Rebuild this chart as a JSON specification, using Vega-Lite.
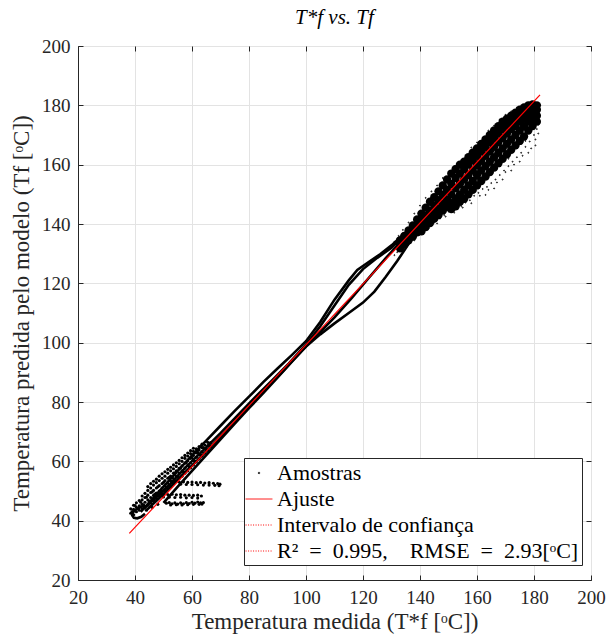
{
  "$schema": "https://vega.github.io/schema/vega-lite/v6.json",
  "width": 513,
  "height": 534,
  "autosize": "none",
  "padding": {"left": 78, "top": 46, "right": 17, "bottom": 57},
  "background": "white",
  "title": {"text": "T*f vs. Tf", "font": "Liberation Serif", "fontSize": 21, "fontStyle": "italic", "fontWeight": "normal", "color": "black", "offset": 9, "frame": "group"},
  "config": {
    "view": {"stroke": "#262626", "strokeWidth": 1},
    "axis": {
      "labelFont": "Liberation Serif", "labelFontSize": 19, "labelColor": "#262626",
      "titleFont": "Liberation Serif", "titleFontSize": 23, "titleFontWeight": "normal", "titleColor": "#262626",
      "gridColor": "#e3e3e3", "gridWidth": 1, "domainColor": "#262626", "tickColor": "#262626",
      "tickSize": -5, "labelPadding": 13, "labelFlush": false, "labelOverlap": false
    },
    "legend": {
      "orient": "none", "legendX": 166, "legendY": 412,
      "labelFont": "Liberation Serif", "labelFontSize": 22, "labelColor": "black", "labelLimit": 500,
      "strokeColor": "#262626", "fillColor": "white", "padding": 3, "rowPadding": 3, "labelOffset": 6, "symbolSize": 500, "symbolStrokeWidth": 1
    }
  },
  "datasets": {
    "low": [
      {"x":38.5,"y":42.5},{"x":38.5,"y":44},
      {"x":39.5,"y":42},{"x":39.5,"y":43.8},{"x":39.5,"y":45.2},
      {"x":40.5,"y":43},{"x":40.5,"y":44.5},{"x":40.5,"y":46},
      {"x":41.5,"y":43.5},{"x":41.5,"y":45},{"x":41.5,"y":46.8},
      {"x":42.5,"y":44},{"x":42.5,"y":45.5},{"x":42.5,"y":47},{"x":42.5,"y":48.3},
      {"x":43.5,"y":44.5},{"x":43.5,"y":46.2},{"x":43.5,"y":47.8},{"x":43.5,"y":49.2},
      {"x":44.5,"y":45.2},{"x":44.5,"y":47},{"x":44.5,"y":48.6},{"x":44.5,"y":50.2},{"x":44.5,"y":51.5},
      {"x":45.5,"y":46},{"x":45.5,"y":47.8},{"x":45.5,"y":49.5},{"x":45.5,"y":51},{"x":45.5,"y":52.5},
      {"x":46.5,"y":46.8},{"x":46.5,"y":48.5},{"x":46.5,"y":50.2},{"x":46.5,"y":52},{"x":46.5,"y":53.3},
      {"x":47.5,"y":47.5},{"x":47.5,"y":49.3},{"x":47.5,"y":51},{"x":47.5,"y":52.8},{"x":47.5,"y":54},
      {"x":48.5,"y":48.3},{"x":48.5,"y":50},{"x":48.5,"y":51.8},{"x":48.5,"y":53.5},{"x":48.5,"y":55},
      {"x":49.5,"y":49},{"x":49.5,"y":51},{"x":49.5,"y":52.5},{"x":49.5,"y":54.3},{"x":49.5,"y":55.8},
      {"x":50.5,"y":50},{"x":50.5,"y":51.8},{"x":50.5,"y":53.5},{"x":50.5,"y":55},{"x":50.5,"y":56.5},
      {"x":51.5,"y":50.8},{"x":51.5,"y":52.6},{"x":51.5,"y":54.3},{"x":51.5,"y":56},{"x":51.5,"y":57.3},
      {"x":52.5,"y":51.5},{"x":52.5,"y":53.4},{"x":52.5,"y":55},{"x":52.5,"y":56.8},{"x":52.5,"y":58},
      {"x":53.5,"y":52.5},{"x":53.5,"y":54.2},{"x":53.5,"y":56},{"x":53.5,"y":57.5},{"x":53.5,"y":58.8},
      {"x":54.5,"y":53.3},{"x":54.5,"y":55},{"x":54.5,"y":56.8},{"x":54.5,"y":58.3},{"x":54.5,"y":59.5},
      {"x":55.5,"y":54.2},{"x":55.5,"y":56},{"x":55.5,"y":57.6},{"x":55.5,"y":59.2},{"x":55.5,"y":60.3},
      {"x":56.5,"y":55},{"x":56.5,"y":56.8},{"x":56.5,"y":58.5},{"x":56.5,"y":60},{"x":56.5,"y":61.2},
      {"x":57.5,"y":56},{"x":57.5,"y":57.7},{"x":57.5,"y":59.4},{"x":57.5,"y":61},{"x":57.5,"y":62},
      {"x":58.5,"y":56.8},{"x":58.5,"y":58.6},{"x":58.5,"y":60.2},{"x":58.5,"y":61.8},{"x":58.5,"y":62.8},
      {"x":59.5,"y":57.8},{"x":59.5,"y":59.5},{"x":59.5,"y":61},{"x":59.5,"y":62.6},{"x":59.5,"y":63.6},
      {"x":60.5,"y":58.8},{"x":60.5,"y":60.4},{"x":60.5,"y":62},{"x":60.5,"y":63.4},{"x":60.5,"y":64.4},
      {"x":61.5,"y":59.8},{"x":61.5,"y":61.4},{"x":61.5,"y":62.8},{"x":61.5,"y":64.2},
      {"x":62.5,"y":60.8},{"x":62.5,"y":62.3},{"x":62.5,"y":63.8},{"x":62.5,"y":65},
      {"x":63.5,"y":61.8},{"x":63.5,"y":63.2},{"x":63.5,"y":64.6},{"x":63.5,"y":65.8},
      {"x":64.5,"y":62.8},{"x":64.5,"y":64.2},{"x":64.5,"y":65.5},
      {"x":65.5,"y":63.8},{"x":65.5,"y":65.2},{"x":65.5,"y":66.4},
      {"x":66.5,"y":65},{"x":66.5,"y":66.3},
      {"x":39,"y":43.1},{"x":40,"y":45.1},{"x":41,"y":44.2},{"x":42,"y":46.2},{"x":43,"y":45.3},{"x":44,"y":47.9},{"x":45,"y":46.6},{"x":46,"y":49.7},{"x":47,"y":48.1},{"x":48,"y":51.4},{"x":49,"y":50},{"x":50,"y":52.9},{"x":51,"y":51.2},{"x":52,"y":54.6},{"x":53,"y":53},{"x":54,"y":56.1},{"x":55,"y":55},{"x":56,"y":57.8},{"x":57,"y":56.5},{"x":58,"y":59.5},{"x":59,"y":58.2},{"x":60,"y":61.2},{"x":61,"y":60},{"x":62,"y":63},{"x":63,"y":62.2},{"x":64,"y":64.6},{"x":65,"y":64},{"x":66,"y":65.6},
      {"x":44,"y":43.5},{"x":46,"y":44.5},{"x":48,"y":45.5},
      {"x":51,"y":45.9},{"x":52,"y":46.1},{"x":53,"y":45.7},{"x":54,"y":46.0},{"x":55,"y":45.6},{"x":56,"y":46.0},{"x":57,"y":45.7},{"x":58,"y":46.1},{"x":59,"y":45.8},{"x":60,"y":46.2},{"x":61,"y":45.9},{"x":62,"y":46.3},{"x":63,"y":46.0},{"x":64,"y":46.1},
      {"x":52.5,"y":45.3},{"x":54.5,"y":45.4},{"x":56.5,"y":45.3},{"x":58.5,"y":45.4},{"x":60.5,"y":45.5},{"x":62.5,"y":45.5},{"x":63.5,"y":45.6},
      {"x":47,"y":49.0},{"x":48.5,"y":48.9},{"x":50,"y":49.0},{"x":51.5,"y":48.8},{"x":53,"y":48.9},{"x":54.5,"y":48.7},{"x":56,"y":48.8},{"x":57.5,"y":48.6},{"x":59,"y":48.6},{"x":60.5,"y":48.5},{"x":62,"y":48.6},{"x":63.3,"y":48.3},
      {"x":50,"y":48.0},{"x":52,"y":47.9},{"x":54,"y":47.8},{"x":56,"y":47.9},{"x":58,"y":47.7},{"x":60,"y":47.8},{"x":62,"y":47.6},
      {"x":54,"y":53.2},{"x":55.5,"y":53.0},{"x":57,"y":53.1},{"x":58.5,"y":52.9},{"x":60,"y":53.0},{"x":61.5,"y":52.8},{"x":63,"y":52.9},{"x":64.5,"y":52.7},{"x":66,"y":52.8},{"x":67.5,"y":52.6},{"x":69,"y":52.5},{"x":69.8,"y":52.3},
      {"x":56,"y":52.3},{"x":58,"y":52.2},{"x":60,"y":52.2},{"x":62,"y":52.1},{"x":64,"y":52.0},{"x":66,"y":52.0},{"x":68,"y":51.9},{"x":69.5,"y":51.8}
    ],
    "core": [
      {"x":133,"y":134.5},{"x":133,"y":133},{"x":133,"y":131.8},
      {"x":134.5,"y":136},{"x":134.5,"y":134.5},{"x":134.5,"y":133.2},
      {"x":136,"y":137.8},{"x":136,"y":136},{"x":136,"y":134.5},
      {"x":137.5,"y":139.5},{"x":137.5,"y":137.6},{"x":137.5,"y":135.8},
      {"x":139,"y":141.5},{"x":139,"y":139.2},{"x":139,"y":137.2},
      {"x":140.5,"y":143.5},{"x":140.5,"y":141},{"x":140.5,"y":139},{"x":140.5,"y":137.5},
      {"x":142,"y":145.5},{"x":142,"y":142.8},{"x":142,"y":140.5},{"x":142,"y":139},
      {"x":143.5,"y":147.5},{"x":143.5,"y":144.5},{"x":143.5,"y":142},{"x":143.5,"y":140.3},
      {"x":145,"y":149},{"x":145,"y":146.3},{"x":145,"y":143.7},{"x":145,"y":141.8},
      {"x":146.5,"y":151},{"x":146.5,"y":148},{"x":146.5,"y":145.2},{"x":146.5,"y":143},
      {"x":148,"y":153},{"x":148,"y":149.8},{"x":148,"y":146.8},{"x":148,"y":144.5},
      {"x":149.5,"y":155},{"x":149.5,"y":151.5},{"x":149.5,"y":148.3},{"x":149.5,"y":145.8},
      {"x":151,"y":157},{"x":151,"y":153.5},{"x":151,"y":150},{"x":151,"y":147},{"x":151,"y":145},
      {"x":152.5,"y":158.5},{"x":152.5,"y":155.5},{"x":152.5,"y":152},{"x":152.5,"y":148.5},{"x":152.5,"y":146},
      {"x":154,"y":160},{"x":154,"y":157},{"x":154,"y":153.5},{"x":154,"y":150},{"x":154,"y":147.5},
      {"x":155.5,"y":161},{"x":155.5,"y":158.5},{"x":155.5,"y":155},{"x":155.5,"y":151.5},{"x":155.5,"y":148.5},
      {"x":157,"y":162.5},{"x":157,"y":160},{"x":157,"y":156.5},{"x":157,"y":153},{"x":157,"y":150},
      {"x":158.5,"y":164},{"x":158.5,"y":161.5},{"x":158.5,"y":158},{"x":158.5,"y":154.5},{"x":158.5,"y":151.5},
      {"x":160,"y":165.5},{"x":160,"y":163},{"x":160,"y":159.8},{"x":160,"y":156.5},{"x":160,"y":153},
      {"x":161.5,"y":167},{"x":161.5,"y":164.5},{"x":161.5,"y":161.3},{"x":161.5,"y":158},{"x":161.5,"y":154.5},
      {"x":163,"y":168.5},{"x":163,"y":166},{"x":163,"y":163},{"x":163,"y":159.5},{"x":163,"y":156},
      {"x":164.5,"y":170},{"x":164.5,"y":167.5},{"x":164.5,"y":164.5},{"x":164.5,"y":161},{"x":164.5,"y":157.5},
      {"x":166,"y":171.5},{"x":166,"y":169},{"x":166,"y":166},{"x":166,"y":162.5},{"x":166,"y":159},
      {"x":167.5,"y":173},{"x":167.5,"y":170.5},{"x":167.5,"y":167.5},{"x":167.5,"y":164},{"x":167.5,"y":160.5},
      {"x":169,"y":174.5},{"x":169,"y":172},{"x":169,"y":169},{"x":169,"y":165.5},{"x":169,"y":162},
      {"x":170.5,"y":175.5},{"x":170.5,"y":173.3},{"x":170.5,"y":170.5},{"x":170.5,"y":167},{"x":170.5,"y":163.5},
      {"x":172,"y":176.5},{"x":172,"y":174.5},{"x":172,"y":172},{"x":172,"y":168.5},{"x":172,"y":165},
      {"x":173.5,"y":177.5},{"x":173.5,"y":175.5},{"x":173.5,"y":173},{"x":173.5,"y":170},{"x":173.5,"y":166.5},
      {"x":175,"y":178.5},{"x":175,"y":176.5},{"x":175,"y":174.5},{"x":175,"y":171.5},{"x":175,"y":168},
      {"x":176.5,"y":179.3},{"x":176.5,"y":177.5},{"x":176.5,"y":175.5},{"x":176.5,"y":173},{"x":176.5,"y":169.5},
      {"x":178,"y":180},{"x":178,"y":178.5},{"x":178,"y":176.5},{"x":178,"y":174.5},{"x":178,"y":171.5},
      {"x":179.5,"y":180.3},{"x":179.5,"y":179},{"x":179.5,"y":177.5},{"x":179.5,"y":175.5},{"x":179.5,"y":173},
      {"x":181,"y":180},{"x":181,"y":178.5},{"x":181,"y":176.5},{"x":181,"y":174.5}
    ],
    "edge": [
      {"x":145,"y":140.5},{"x":147,"y":141.8},{"x":148.5,"y":143},{"x":150,"y":144.2},{"x":151.5,"y":144.8},{"x":153,"y":145.5},{"x":154.5,"y":146},{"x":156,"y":147.2},{"x":157.5,"y":148},{"x":159,"y":149.5},{"x":160.5,"y":150.5},{"x":162,"y":151.8},{"x":163.5,"y":152.5},{"x":165,"y":153.8},{"x":166.5,"y":155},{"x":168,"y":156.5},{"x":169.5,"y":158},{"x":171,"y":159.5},{"x":172.5,"y":161},{"x":174,"y":162.5},{"x":175.5,"y":164},{"x":177,"y":166},{"x":178.5,"y":167.8},{"x":180,"y":170},{"x":181,"y":172},{"x":181.5,"y":175},{"x":180.5,"y":168.5},{"x":179,"y":165.5},{"x":176,"y":163},{"x":173,"y":160},{"x":170,"y":157.5},{"x":167,"y":154},{"x":164,"y":151.5},{"x":161,"y":149.5},{"x":158,"y":147},{"x":155,"y":145.5},{"x":152,"y":143.8},{"x":149,"y":142.5},{"x":146,"y":140.2},{"x":143,"y":138.6},{"x":141,"y":137.5},{"x":138,"y":134.5},{"x":136,"y":133},{"x":134,"y":131},{"x":132,"y":130.5},{"x":131,"y":129.5},
      {"x":150,"y":157.5},{"x":152,"y":159.5},{"x":153.5,"y":160.5},{"x":155,"y":161.8},{"x":156.5,"y":162.8},{"x":148,"y":155.5},{"x":146,"y":153},{"x":144,"y":151},{"x":142,"y":148.8},{"x":140,"y":146.2},{"x":138,"y":143.5},{"x":136,"y":140.5},{"x":134,"y":138},{"x":132.5,"y":136},{"x":131,"y":134},
      {"x":158,"y":165.8},{"x":160,"y":167.5},{"x":162,"y":169},{"x":164,"y":171.5},{"x":166,"y":173.2},{"x":168,"y":175.2},{"x":170,"y":176.8},{"x":172,"y":178},{"x":174,"y":179.2},{"x":176,"y":180},{"x":178,"y":180.8},{"x":180,"y":181},{"x":182,"y":180.2},{"x":182,"y":178.5},{"x":182,"y":176.5},{"x":181.5,"y":173.5},
      {"x":163,"y":149.8},{"x":166,"y":152},{"x":169,"y":155},{"x":172,"y":158},{"x":175,"y":161},{"x":178,"y":164},{"x":180.5,"y":166.5},{"x":181.5,"y":170.5},
      {"x":158,"y":152.5},{"x":162,"y":154},{"x":165,"y":157},{"x":168,"y":159.5},{"x":171,"y":162},{"x":174,"y":165.5},{"x":177,"y":168},{"x":160,"y":155},{"x":156,"y":150},{"x":153,"y":148},{"x":150,"y":146.5}
    ],
    "curves": [
      {"c":"C0","i":0,"x":43.5,"y":45.2},{"c":"C0","i":1,"x":42,"y":44.6},{"c":"C0","i":2,"x":40.5,"y":43.8},{"c":"C0","i":3,"x":39.3,"y":42.8},{"c":"C0","i":4,"x":39,"y":41.8},{"c":"C0","i":5,"x":39.6,"y":41},{"c":"C0","i":6,"x":40.8,"y":40.8},{"c":"C0","i":7,"x":42.2,"y":41.3},{"c":"C0","i":8,"x":43.5,"y":42.3},
      {"c":"C1","i":0,"x":50,"y":46},{"c":"C1","i":1,"x":55,"y":51.5},{"c":"C1","i":2,"x":60,"y":56.8},{"c":"C1","i":3,"x":65,"y":62.1},{"c":"C1","i":4,"x":70,"y":67.4},{"c":"C1","i":5,"x":75,"y":72.7},{"c":"C1","i":6,"x":80,"y":77.9},{"c":"C1","i":7,"x":85,"y":83},{"c":"C1","i":8,"x":90,"y":88.2},{"c":"C1","i":9,"x":95,"y":93.5},{"c":"C1","i":10,"x":100,"y":98.7},{"c":"C1","i":11,"x":105,"y":102.8},{"c":"C1","i":12,"x":110,"y":106.5},{"c":"C1","i":13,"x":115,"y":110},{"c":"C1","i":14,"x":120,"y":113.5},{"c":"C1","i":15,"x":124,"y":117.2},{"c":"C1","i":16,"x":128,"y":122.2},{"c":"C1","i":17,"x":132,"y":127.5},{"c":"C1","i":18,"x":136,"y":133.3},{"c":"C1","i":19,"x":140,"y":139.2},{"c":"C1","i":20,"x":143,"y":143},
      {"c":"C2","i":0,"x":42,"y":43},{"c":"C2","i":1,"x":46,"y":47.2},{"c":"C2","i":2,"x":50,"y":51.5},{"c":"C2","i":3,"x":55,"y":56.8},{"c":"C2","i":4,"x":60,"y":62},{"c":"C2","i":5,"x":65,"y":67},{"c":"C2","i":6,"x":70,"y":72},{"c":"C2","i":7,"x":75,"y":77},{"c":"C2","i":8,"x":80,"y":81.8},{"c":"C2","i":9,"x":85,"y":86.7},{"c":"C2","i":10,"x":90,"y":91.3},{"c":"C2","i":11,"x":95,"y":95.8},{"c":"C2","i":12,"x":100,"y":100.5},{"c":"C2","i":13,"x":105,"y":107},{"c":"C2","i":14,"x":110,"y":114.5},{"c":"C2","i":15,"x":115,"y":121},{"c":"C2","i":16,"x":118,"y":124.5},{"c":"C2","i":17,"x":122,"y":127.2},{"c":"C2","i":18,"x":126,"y":129.8},{"c":"C2","i":19,"x":130,"y":132.8},{"c":"C2","i":20,"x":134,"y":136.3},{"c":"C2","i":21,"x":138,"y":140},{"c":"C2","i":22,"x":141,"y":143},
      {"c":"C3","i":0,"x":43,"y":44},{"c":"C3","i":1,"x":47,"y":47.5},{"c":"C3","i":2,"x":52,"y":52},{"c":"C3","i":3,"x":58,"y":58.2},{"c":"C3","i":4,"x":64,"y":63.8},{"c":"C3","i":5,"x":70,"y":69.5},{"c":"C3","i":6,"x":76,"y":75.5},{"c":"C3","i":7,"x":82,"y":81.5},{"c":"C3","i":8,"x":88,"y":87.2},{"c":"C3","i":9,"x":94,"y":93},{"c":"C3","i":10,"x":100,"y":99.3},{"c":"C3","i":11,"x":105,"y":105.5},{"c":"C3","i":12,"x":110,"y":112.5},{"c":"C3","i":13,"x":115,"y":119.5},{"c":"C3","i":14,"x":120,"y":124.8},{"c":"C3","i":15,"x":125,"y":128.6},{"c":"C3","i":16,"x":130,"y":132},{"c":"C3","i":17,"x":135,"y":136.8},{"c":"C3","i":18,"x":140,"y":141.5},
      {"c":"C4","i":0,"x":44,"y":43.5},{"c":"C4","i":1,"x":50,"y":49},{"c":"C4","i":2,"x":56,"y":54.8},{"c":"C4","i":3,"x":62,"y":60.5},{"c":"C4","i":4,"x":68,"y":66.3},{"c":"C4","i":5,"x":74,"y":72.2},{"c":"C4","i":6,"x":80,"y":78.3},{"c":"C4","i":7,"x":86,"y":84.5},{"c":"C4","i":8,"x":92,"y":90.5},{"c":"C4","i":9,"x":98,"y":96.8},{"c":"C4","i":10,"x":104,"y":102.6},{"c":"C4","i":11,"x":110,"y":108.5},{"c":"C4","i":12,"x":116,"y":115},{"c":"C4","i":13,"x":122,"y":121.8},{"c":"C4","i":14,"x":128,"y":128.5},{"c":"C4","i":15,"x":134,"y":134.8},{"c":"C4","i":16,"x":140,"y":140.5}
    ],
    "fit": [{"x":38,"y":35.7},{"x":182.1,"y":183.5}]
  },
  "layer": [
    {
      "data": {"name": "low"},
      "mark": {"type": "point", "filled": true, "size": 10, "opacity": 1, "color": "black"},
      "encoding": {
        "x": {"field": "x", "type": "quantitative", "scale": {"domain": [20, 200], "nice": false},
              "axis": {"orient": "bottom", "values": [20,40,60,80,100,120,140,160,180,200], "grid": true, "title": "Temperatura medida (T*f [ᵒC])", "titlePadding": 3}},
        "y": {"field": "y", "type": "quantitative", "scale": {"domain": [20, 200], "nice": false},
              "axis": {"orient": "left", "values": [20,40,60,80,100,120,140,160,180,200], "grid": true, "title": "Temperatura predida pelo modelo (Tf [ᵒC])", "titlePadding": 8}}
      }
    },
    {
      "data": {"name": "core"},
      "mark": {"type": "point", "filled": true, "size": 70, "opacity": 1, "color": "black"},
      "encoding": {
        "x": {"field": "x", "type": "quantitative", "axis": null},
        "y": {"field": "y", "type": "quantitative", "axis": null}
      }
    },
    {
      "data": {"name": "edge"},
      "mark": {"type": "point", "filled": false, "size": 200, "opacity": 1, "strokeWidth": 1},
      "encoding": {
        "x": {"field": "x", "type": "quantitative", "axis": null},
        "y": {"field": "y", "type": "quantitative", "axis": null},
        "color": {"datum": "Amostras", "type": "nominal",
          "scale": {"domain": ["Amostras", "Ajuste", "Intervalo de confiança", "R²\u2002=\u20020.995,\u2003RMSE\u2002=\u20022.93[ᵒC]"], "range": ["black", "red", "red", "red"]},
          "legend": {"title": null}},
        "shape": {"datum": "Amostras", "type": "nominal",
          "scale": {"domain": ["Amostras", "Ajuste", "Intervalo de confiança", "R²\u2002=\u20020.995,\u2003RMSE\u2002=\u20022.93[ᵒC]"],
                    "range": ["M-0.07,0A0.07,0.07 0 1,1 0.07,0A0.07,0.07 0 1,1 -0.07,0Z", "M-1.2,0H1.2", "M-1.2,0H1.2", "M-1.2,0H1.2"]},
          "legend": {"title": null}},
        "strokeDash": {"datum": "Amostras", "type": "nominal",
          "scale": {"domain": ["Amostras", "Ajuste", "Intervalo de confiança", "R²\u2002=\u20020.995,\u2003RMSE\u2002=\u20022.93[ᵒC]"],
                    "range": [[1, 0], [1, 0], [1, 1.5], [1, 1.5]]},
          "legend": {"title": null}}
      }
    },
    {
      "data": {"name": "curves"},
      "mark": {"type": "line", "color": "black", "strokeWidth": 2.6},
      "encoding": {
        "x": {"field": "x", "type": "quantitative", "axis": null},
        "y": {"field": "y", "type": "quantitative", "axis": null},
        "detail": {"field": "c"},
        "order": {"field": "i", "type": "quantitative"}
      }
    },
    {
      "data": {"name": "fit"},
      "mark": {"type": "line", "color": "red", "strokeWidth": 1.2},
      "encoding": {
        "x": {"field": "x", "type": "quantitative",
              "axis": {"orient": "top", "values": [20,40,60,80,100,120,140,160,180,200], "labels": false, "grid": false, "domain": false, "title": null}},
        "y": {"field": "y", "type": "quantitative",
              "axis": {"orient": "right", "values": [20,40,60,80,100,120,140,160,180,200], "labels": false, "grid": false, "domain": false, "title": null}}
      }
    }
  ],
  "resolve": {"axis": {"x": "independent", "y": "independent"}}
}
